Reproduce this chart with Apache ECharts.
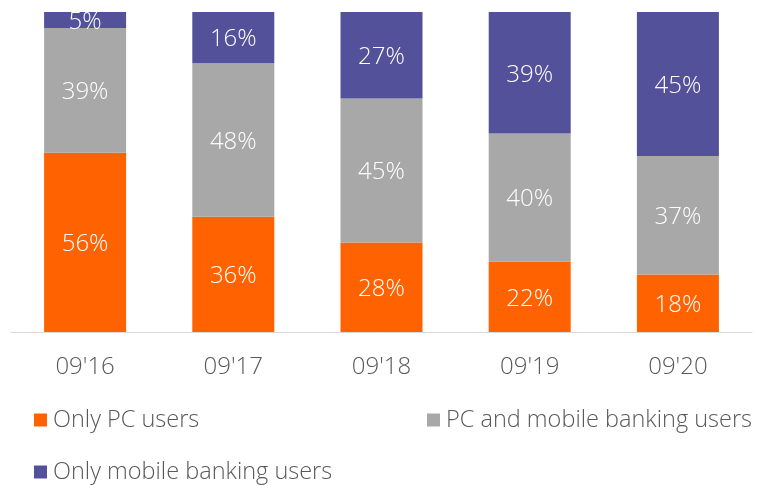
<!DOCTYPE html>
<html><head><meta charset="utf-8">
<script src="https://cdn.jsdelivr.net/npm/echarts@6/dist/echarts.min.js"></script>
<style>html,body{margin:0;padding:0;background:#fff}#c{width:758px;height:485px}</style>
</head><body><div id="c"></div>
<script>
const categories = ["09'16", "09'17", "09'18", "09'19", "09'20"];
const onlyPC = [56, 36, 28, 22, 18];
const pcAndMobile = [39, 48, 45, 40, 37];
const onlyMobile = [5, 16, 27, 39, 45];
const seriesNames = ["Only PC users", "PC and mobile banking users", "Only mobile banking users"];
const colors = ["#FF6200", "#A8A8A8", "#525199"];
const FONT = "Open Sans";

const chart = echarts.init(document.getElementById('c'));
const mk = (name, data, color) => ({
  name, type: 'bar', stack: 'total', data, barWidth: 82,
  itemStyle: { color },
  label: { show: true, position: 'inside', offset: [0, 2], formatter: '{c}%', color: '#fff', fontSize: 24, fontWeight: 300, fontFamily: FONT }
});
const legendBase = { itemWidth: 13, itemHeight: 13, icon: 'rect', itemGap: 0,
  textStyle: { fontSize: 23.5, fontWeight: 300, color: '#595959', fontFamily: FONT, padding: [0, 0, 0, 1] } };
chart.setOption({
  animation: false,
  grid: { left: 11, right: 6, top: 12, bottom: 153, containLabel: false },
  xAxis: { type: 'category', data: categories,
    axisLine: { lineStyle: { color: '#d9d9d9', width: 1 } }, axisTick: { show: false },
    axisLabel: { fontSize: 24, fontWeight: 300, color: '#595959', fontFamily: FONT, margin: 23 } },
  yAxis: { type: 'value', min: 0, max: 100, show: false, splitLine: { show: false } },
  legend: [
    Object.assign({ data: [seriesNames[0]], left: 29, top: 403 }, legendBase),
    Object.assign({ data: [seriesNames[1]], left: 422, top: 403 }, legendBase),
    Object.assign({ data: [seriesNames[2]], left: 29, top: 455 }, legendBase)
  ],
  series: [mk(seriesNames[0], onlyPC, colors[0]), mk(seriesNames[1], pcAndMobile, colors[1]), mk(seriesNames[2], onlyMobile, colors[2])],
  graphic: [{ type: 'rect', shape: { x: 0, y: 0, width: 758, height: 12 }, style: { fill: '#fff' }, z: 100 }]
});
</script></body></html>
